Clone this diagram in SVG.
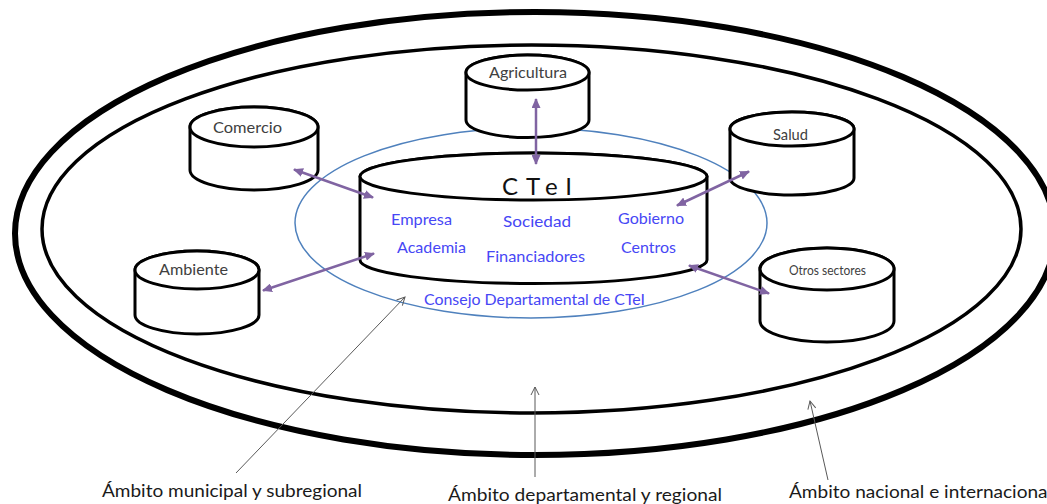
<svg xmlns="http://www.w3.org/2000/svg" width="1047" height="504" viewBox="0 0 1047 504">
<style>
.cyl{fill:#fff;stroke:#000;stroke-width:3;stroke-linejoin:round}
.lbl{font-family:Lato,"Liberation Sans",sans-serif;fill:#404040;text-anchor:start}
.blue{font-family:Lato,"Liberation Sans",sans-serif;fill:#4747F5;font-size:16px}
.amb{font-family:Lato,"Liberation Sans",sans-serif;fill:#1a1a1a;font-size:17px}
.pa{stroke:#8064A2;stroke-width:2.5;fill:none;marker-start:url(#ph);marker-end:url(#ph)}
.ga{stroke:#595959;stroke-width:1;fill:none;marker-end:url(#gh)}
</style>
<defs>
<marker id="ph" viewBox="0 0 10 9" refX="9" refY="4.5" markerWidth="10" markerHeight="9" markerUnits="userSpaceOnUse" orient="auto-start-reverse">
<path d="M0,0 L10,4.5 L0,9 z" fill="#8064A2"/>
</marker>
<marker id="gh" viewBox="0 0 10 10" refX="9" refY="5" markerWidth="10" markerHeight="10" markerUnits="userSpaceOnUse" orient="auto">
<path d="M1,1 L9,5 L1,9" fill="none" stroke="#595959" stroke-width="1"/>
</marker>
</defs>
<rect width="1047" height="504" fill="#fff"/>
<g id="ambito-nacional">
<ellipse cx="535" cy="233.5" rx="520" ry="221.5" fill="none" stroke="#000" stroke-width="6"/>
</g>
<g id="ambito-departamental">
<ellipse cx="531.5" cy="229" rx="489.5" ry="184" fill="none" stroke="#000" stroke-width="3.5"/>
</g>
<g id="consejo">
<ellipse cx="531" cy="223" rx="236" ry="95" fill="none" stroke="#4F81BD" stroke-width="1.5"/>
<text class="blue" x="424" y="305" textLength="221" lengthAdjust="spacingAndGlyphs">Consejo Departamental de CTeI</text>
</g>
<g id="agricultura">
<path class="cyl" d="M466,72.5 V120 A61.5,17.5 0 0 0 589,120 V72.5 A61.5,17.5 0 0 0 466,72.5 Z"/>
<ellipse class="cyl" cx="527.5" cy="72.5" rx="61.5" ry="17.5"/>
<text class="lbl" x="489" y="78" font-size="15" textLength="78" lengthAdjust="spacingAndGlyphs">Agricultura</text>
</g>
<g id="comercio">
<path class="cyl" d="M190,127 V170 A64,20 0 0 0 318,170 V127 A64,20 0 0 0 190,127 Z"/>
<ellipse class="cyl" cx="254" cy="127" rx="64" ry="20"/>
<text class="lbl" x="213" y="133" font-size="15" textLength="69" lengthAdjust="spacingAndGlyphs">Comercio</text>
</g>
<g id="salud">
<path class="cyl" d="M730,129 V178 A62,17 0 0 0 854,178 V129 A62,17 0 0 0 730,129 Z"/>
<ellipse class="cyl" cx="792" cy="129" rx="62" ry="17"/>
<text class="lbl" x="773" y="140" font-size="15" textLength="35" lengthAdjust="spacingAndGlyphs">Salud</text>
</g>
<g id="ambiente">
<path class="cyl" d="M135,270 V315 A62,19 0 0 0 259,315 V270 A62,19 0 0 0 135,270 Z"/>
<ellipse class="cyl" cx="197" cy="270" rx="62" ry="19"/>
<text class="lbl" x="159" y="275" font-size="15" textLength="69" lengthAdjust="spacingAndGlyphs">Ambiente</text>
</g>
<g id="otros">
<path class="cyl" d="M760,269 V321 A67,21 0 0 0 894,321 V269 A67,21 0 0 0 760,269 Z"/>
<ellipse class="cyl" cx="827" cy="269" rx="67" ry="21"/>
<text class="lbl" x="789" y="275" font-size="14" textLength="77" lengthAdjust="spacingAndGlyphs">Otros sectores</text>
</g>
<g id="ctei">
<path class="cyl" stroke-width="3.5" d="M360,176.5 V260 A173.5,23.5 0 0 0 707,260 V176.5 A173.5,23.5 0 0 0 360,176.5 Z"/>
<ellipse class="cyl" stroke-width="3.5" cx="533.5" cy="176.5" rx="173.5" ry="23.5"/>
<text x="502" y="195" font-family="Lato,'Liberation Sans',sans-serif" font-size="24" fill="#111" textLength="70" lengthAdjust="spacing">CTeI</text>
<text class="blue" x="391" y="225" textLength="61" lengthAdjust="spacingAndGlyphs">Empresa</text>
<text class="blue" x="503" y="227" textLength="68" lengthAdjust="spacingAndGlyphs">Sociedad</text>
<text class="blue" x="618" y="224" textLength="66" lengthAdjust="spacingAndGlyphs">Gobierno</text>
<text class="blue" x="397" y="253" textLength="69" lengthAdjust="spacingAndGlyphs">Academia</text>
<text class="blue" x="486" y="262" textLength="99" lengthAdjust="spacingAndGlyphs">Financiadores</text>
<text class="blue" x="621" y="253" textLength="55" lengthAdjust="spacingAndGlyphs">Centros</text>
</g>
<g id="connectors">
<line class="pa" x1="536" y1="99" x2="536" y2="164"/>
<line class="pa" x1="294" y1="169.5" x2="373" y2="197.5"/>
<line class="pa" x1="263" y1="290.5" x2="374" y2="253.5"/>
<line class="pa" x1="749" y1="171.5" x2="677" y2="205.5"/>
<line class="pa" x1="689" y1="265.5" x2="769" y2="293.5"/>
<line class="ga" x1="236" y1="473" x2="405" y2="297"/>
<line class="ga" x1="535" y1="477" x2="535" y2="387"/>
<line class="ga" x1="828" y1="480" x2="810" y2="401"/>
</g>
<g id="labels">
<text class="amb" x="102" y="497" textLength="260" lengthAdjust="spacingAndGlyphs">Ámbito municipal y subregional</text>
<text class="amb" x="448" y="501" textLength="274" lengthAdjust="spacingAndGlyphs">Ámbito departamental y regional</text>
<text class="amb" x="789" y="498" textLength="263" lengthAdjust="spacingAndGlyphs">Ámbito nacional e internacional</text>
</g>
</svg>
